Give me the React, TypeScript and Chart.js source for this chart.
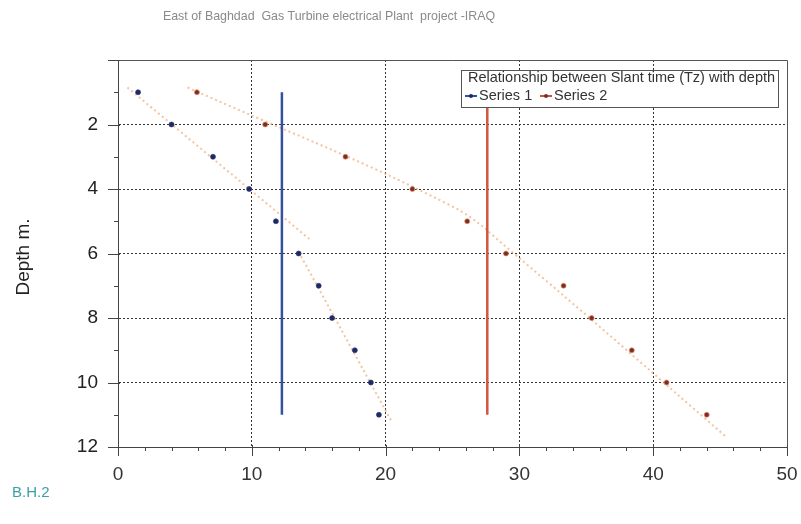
import { useEffect, useRef } from 'react';
import { Chart, registerables } from 'chart.js';
Chart.register(...registerables);

// ---- data ----
const depths = [1, 2, 3, 4, 5, 6, 7, 8, 9, 10, 11];
const series1Time = [1.5, 4.0, 7.1, 9.8, 11.8, 13.5, 15.0, 16.0, 17.7, 18.9, 19.5];
const series2Time = [5.9, 11.0, 17.0, 22.0, 26.1, 29.0, 33.3, 35.4, 38.4, 41.0, 44.0];
const series1MeanX = [12.25, 12.25];
const series2MeanX = [27.6, 27.6];
const meanDepths = [1, 11];
const trend1aX = [0.7, 14.3];
const trend1aY = [0.85, 5.55];
const trend1bX = [13.5, 20.5];
const trend1bY = [5.95, 11.25];
const trend2X = [5.2, 24.8, 29.3, 45.5];
const trend2Y = [0.85, 4.5, 5.9, 11.7];
const xTickLabels = [0, 10, 20, 30, 40, 50];
const yTickLabels = [2, 4, 6, 8, 10, 12];

const titleText = 'East of Baghdad  Gas Turbine electrical Plant  project -IRAQ';
const legendTitle = 'Relationship between Slant time (Tz) with depth';
const yAxisTitle = 'Depth m.';
const footText = 'B.H.2';

const FONT = '"Liberation Sans", Arial, sans-serif';

const zip = (xs: number[], ys: number[]) => xs.map((x, i) => ({ x, y: ys[i] }));

const extrasPlugin = {
  id: 'extras',
  afterDraw(chart: any) {
    const { ctx, chartArea: a, scales } = chart;
    const xs = scales.x;
    const ys = scales.y;
    ctx.save();
    // box top/right
    ctx.strokeStyle = '#555';
    ctx.lineWidth = 1;
    ctx.beginPath();
    ctx.moveTo(a.left, a.top + 0.5);
    ctx.lineTo(a.right + 0.5, a.top + 0.5);
    ctx.lineTo(a.right + 0.5, a.bottom);
    ctx.stroke();
    // ticks
    ctx.strokeStyle = '#444';
    ctx.beginPath();
    for (let v = 0; v <= 50; v += 2) {
      const px = Math.round(xs.getPixelForValue(v)) + 0.5;
      const major = xTickLabels.includes(v);
      ctx.moveTo(px, a.bottom - (major ? 2 : 0));
      ctx.lineTo(px, a.bottom + (major ? 9 : 4));
    }
    for (let v = 0; v <= 12; v += 1) {
      const py = Math.round(ys.getPixelForValue(v)) + 0.5;
      const major = v % 2 === 0;
      ctx.moveTo(a.left - (major ? 10 : 4), py);
      ctx.lineTo(a.left + (major ? 2 : 0), py);
    }
    ctx.stroke();

    // title
    ctx.fillStyle = '#8a8a8a';
    ctx.font = `12.4px ${FONT}`;
    ctx.textAlign = 'center';
    ctx.textBaseline = 'middle';
    ctx.fillText(titleText, 329, 17);

    // y axis title
    ctx.save();
    ctx.translate(24, 257);
    ctx.rotate(-Math.PI / 2);
    ctx.fillStyle = '#222';
    ctx.font = `19px ${FONT}`;
    ctx.fillText(yAxisTitle, 0, 0);
    ctx.restore();

    // foot text
    ctx.fillStyle = '#3a9fa6';
    ctx.font = `15px ${FONT}`;
    ctx.textAlign = 'left';
    ctx.fillText(footText, 12, 493);

    // legend
    const lx = 461, ly = 70, lw = 317, lh = 37;
    ctx.fillStyle = '#fff';
    ctx.fillRect(lx, ly, lw, lh);
    ctx.strokeStyle = '#555';
    ctx.lineWidth = 1;
    ctx.strokeRect(lx + 0.5, ly + 0.5, lw, lh);
    ctx.fillStyle = '#333';
    ctx.font = `14.5px ${FONT}`;
    ctx.textBaseline = 'middle';
    ctx.fillText(legendTitle, 468, 78);
    const items = chart.data.datasets.filter((d: any) => d.legendItem);
    let ix = 465;
    items.forEach((d: any) => {
      ctx.strokeStyle = d.legendColor;
      ctx.lineWidth = 2;
      ctx.beginPath();
      ctx.moveTo(ix, 96);
      ctx.lineTo(ix + 12, 96);
      ctx.stroke();
      ctx.fillStyle = d.pointBackgroundColor;
      ctx.beginPath();
      ctx.arc(ix + 6, 96, 2, 0, Math.PI * 2);
      ctx.fill();
      ctx.fillStyle = '#333';
      ctx.fillText(d.label, ix + 14, 96);
      ix += 75;
    });
    ctx.restore();
  },
};

export default function App() {
  const ref = useRef<HTMLCanvasElement>(null);
  useEffect(() => {
    document.body.style.margin = '0';
    const canvas = ref.current!;
    const chart = new Chart(canvas, {
      type: 'scatter',
      data: {
        datasets: [
          {
            label: 'Series 1',
            data: zip(series1Time, depths),
            pointRadius: 2.5,
            pointBackgroundColor: '#1d2a66',
            pointBorderColor: 'rgba(40,50,110,0.6)',
            pointBorderWidth: 1,
            showLine: false,
            order: 0,
            legendItem: true,
            legendColor: '#2f4f9f',
          } as any,
          {
            label: 'Series 2',
            data: zip(series2Time, depths),
            pointRadius: 2.5,
            pointBackgroundColor: '#7a2e22',
            pointBorderColor: 'rgba(230,140,110,0.7)',
            pointBorderWidth: 1,
            showLine: false,
            order: 0,
            legendItem: true,
            legendColor: '#c9513f',
          } as any,
          {
            label: 'mean1',
            data: zip(series1MeanX, meanDepths),
            showLine: true,
            borderColor: '#3452a0',
            borderWidth: 2.5,
            pointRadius: 0,
            order: 1,
          },
          {
            label: 'mean2',
            data: zip(series2MeanX, meanDepths),
            showLine: true,
            borderColor: '#d2553f',
            borderWidth: 2.5,
            pointRadius: 0,
            order: 1,
          },
          {
            label: 'trend1a',
            data: zip(trend1aX, trend1aY),
            showLine: true,
            borderColor: 'rgba(240,170,120,0.7)',
            borderWidth: 2,
            borderDash: [2, 3],
            pointRadius: 0,
            order: 2,
          },
          {
            label: 'trend1b',
            data: zip(trend1bX, trend1bY),
            showLine: true,
            borderColor: 'rgba(240,170,120,0.7)',
            borderWidth: 2,
            borderDash: [2, 3],
            pointRadius: 0,
            order: 2,
          },
          {
            label: 'trend2',
            data: zip(trend2X, trend2Y),
            showLine: true,
            borderColor: 'rgba(240,170,120,0.7)',
            borderWidth: 2,
            borderDash: [2, 3],
            pointRadius: 0,
            tension: 0.4,
            order: 2,
          },
        ],
      },
      options: {
        responsive: false,
        animation: false,
        layout: { padding: { top: 60, right: 14, left: 0, bottom: 0 } },
        plugins: { legend: { display: false }, title: { display: false }, tooltip: { enabled: false } },
        scales: {
          x: {
            type: 'linear',
            min: 0,
            max: 50,
            afterFit: (s: any) => { s.height = 77; s.paddingRight = 0; s.paddingLeft = 0; },
            ticks: {
              stepSize: 2,
              padding: 16,
              color: '#333',
              font: { family: FONT, size: 19 },
              callback: (v: any) => (xTickLabels.includes(Number(v)) ? String(v) : ''),
              maxRotation: 0,
              autoSkip: false,
            },
            grid: {
              drawTicks: false,
              color: (c: any) => {
                const v = c.tick?.value;
                return v % 10 === 0 && v > 0 && v < 50 ? '#333' : 'rgba(0,0,0,0)';
              },
              lineWidth: 1,
            },
            border: { display: true, color: '#444', width: 1, dash: [2, 2] },
          },
          y: {
            type: 'linear',
            min: 0,
            max: 12,
            reverse: true,
            afterFit: (s: any) => { s.width = 118; s.paddingTop = 0; s.paddingBottom = 0; },
            ticks: {
              stepSize: 1,
              padding: 20,
              color: '#222',
              font: { family: FONT, size: 19 },
              callback: (v: any) => (yTickLabels.includes(Number(v)) ? String(v) : ''),
              autoSkip: false,
            },
            grid: {
              drawTicks: false,
              color: (c: any) => {
                const v = c.tick?.value;
                return v % 2 === 0 && v > 0 && v < 12 ? '#333' : 'rgba(0,0,0,0)';
              },
              lineWidth: 1,
            },
            border: { display: true, color: '#444', width: 1, dash: [2, 2] },
          },
        },
      },
      plugins: [extrasPlugin],
    });
    return () => chart.destroy();
  }, []);
  return (
    <div style={{ width: 801, height: 524 }}>
      <canvas ref={ref} width={801} height={524} style={{ display: 'block' }} />
    </div>
  );
}
